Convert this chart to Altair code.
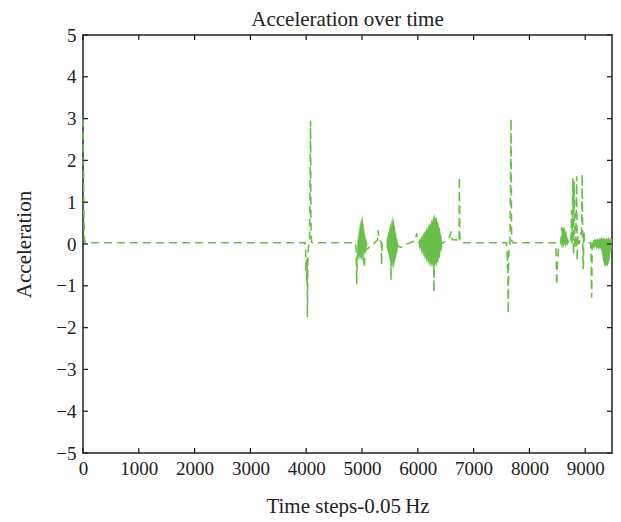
import altair as alt
import pandas as pd

GREEN = "#6abf4b"
FONT = "Liberation Serif"
INK = "#222222"

X_MAX = 9480
W, H = 529, 418

x_ticks = [0, 1000, 2000, 3000, 4000, 5000, 6000, 7000, 8000, 9000]
y_ticks = [-5, -4, -3, -2, -1, 0, 1, 2, 3, 4, 5]

# main trace (dashed)
t_line = [0, 8, 15, 25, 40, 3980, 3990, 3998, 4004, 4010, 4016, 4022, 4030, 4045,
          4060, 4070, 4078, 4085, 4095, 4110, 4880, 4895, 4905, 4915, 4935, 4990,
          5040, 5060, 5110, 5200, 5280, 5290, 5300, 5345, 5350, 5360, 5440, 5515,
          5520, 5530, 5640, 5700, 5800, 5900, 5960, 5980, 6000, 6040, 6280, 6290,
          6300, 6380, 6450, 6550, 6600, 6620, 6700, 6740, 6745, 6755, 6770, 7590,
          7600, 7608, 7612, 7616, 7620, 7630, 7650, 7660, 7670, 7680, 7700, 8470,
          8480, 8490, 8500, 8520, 8560, 8580, 8700, 8720, 8745, 8755, 8765, 8780,
          8790, 8800, 8815, 8830, 8847, 8855, 8870, 8890, 8935, 8945, 8955, 8965,
          8975, 8990, 9100, 9115, 9125, 9150, 9480]
a_line = [3.0, 2.0, 0.8, 0.1, 0.03, 0.03, -0.15, -0.7, -0.35, -0.9, -0.5, -1.75, -0.3, 0.0,
          0.1, 1.6, 2.95, 0.5, 0.05, 0.03, 0.03, -0.1, -0.95, -0.3, -0.2, 0.0,
          -0.55, -0.15, -0.1, 0.0, 0.1, 0.33, 0.1, 0.05, -0.5, 0.0, 0.0, 0.0,
          -0.86, 0.0, -0.05, -0.08, 0.0, 0.05, 0.1, 0.26, 0.05, 0.02, 0.0, -1.15,
          0.0, -0.05, 0.03, 0.1, 0.3, 0.1, 0.1, 0.05, 1.6, 0.05, 0.03, 0.03,
          -0.2, -0.6, -0.3, -1.0, -1.66, -0.2, 0.0, 1.0, 3.0, 0.1, 0.03, 0.03,
          -0.3, -0.98, -0.5, -0.1, 0.0, 0.4, 0.05, 0.0, 0.1, 0.81, 0.0, 1.57,
          -0.26, 1.5, -0.1, 0.0, 1.62, -0.4, 0.2, 0.0, 0.3, 1.67, 0.1, -0.6,
          0.3, 0.05, 0.02, -1.28, 0.0, 0.05, 0.0]

# dense oscillation bursts (envelopes)
b1_t = [4915, 4925, 4932, 4940, 4948, 4955, 4962, 4970, 4978, 4985, 4992, 5000, 5007, 5014, 5020,
        5028, 5035, 5042, 5050, 5058, 5065, 5075, 5085, 5095]
b1_lo = [-0.35, -0.5, -0.3, -0.45, -0.25, -0.42, -0.3, -0.4, -0.28, -0.45, -0.3, -0.38, -0.22, -0.35,
         -0.25, -0.32, -0.18, -0.3, -0.2, -0.28, -0.1, -0.18, -0.08, -0.05]
b1_hi = [-0.05, 0.2, 0.1, 0.35, 0.25, 0.5, 0.38, 0.6, 0.45, 0.66, 0.5, 0.7, 0.55, 0.74, 0.48,
         0.52, 0.3, 0.38, 0.2, 0.25, 0.1, 0.14, 0.04, 0.02]

b2_t = [5440, 5450, 5460, 5470, 5480, 5490, 5500, 5510, 5520, 5530, 5540, 5550, 5560, 5570,
        5580, 5590, 5600, 5610, 5620, 5630, 5640, 5650]
b2_lo = [-0.05, -0.2, -0.1, -0.3, -0.2, -0.4, -0.3, -0.5, -0.35, -0.55, -0.45, -0.6, -0.5, -0.62,
         -0.4, -0.5, -0.3, -0.38, -0.2, -0.25, -0.1, -0.05]
b2_hi = [0.08, 0.2, 0.15, 0.3, 0.25, 0.42, 0.35, 0.5, 0.42, 0.6, 0.5, 0.69, 0.55, 0.62, 0.42,
         0.45, 0.25, 0.3, 0.12, 0.15, 0.04, 0.0]

b3_t = [6020, 6035, 6050, 6065, 6080, 6095, 6110, 6125, 6140, 6155, 6170, 6185, 6200, 6215,
        6230, 6245, 6260, 6275, 6290, 6305, 6320, 6335, 6350, 6365, 6380, 6395, 6410, 6425, 6435]
b3_lo = [-0.05, -0.15, -0.08, -0.25, -0.15, -0.32, -0.22, -0.38, -0.3, -0.45, -0.35, -0.5, -0.4, -0.55,
         -0.45, -0.55, -0.48, -0.62, -0.5, -0.6, -0.45, -0.55, -0.4, -0.48, -0.3, -0.35, -0.15, -0.2, -0.05]
b3_hi = [0.08, 0.15, 0.1, 0.2, 0.15, 0.28, 0.22, 0.32, 0.28, 0.4, 0.34, 0.46, 0.4, 0.52,
         0.46, 0.6, 0.52, 0.68, 0.6, 0.74, 0.6, 0.66, 0.5, 0.55, 0.38, 0.4, 0.22, 0.2, 0.05]

b4_t = [8570, 8580, 8590, 8600, 8615, 8630, 8645, 8660, 8675, 8690]
b4_lo = [-0.1, -0.05, -0.12, 0.0, -0.1, 0.02, -0.1, 0.0, -0.05, 0.0]
b4_hi = [0.1, 0.35, 0.3, 0.42, 0.35, 0.4, 0.3, 0.32, 0.2, 0.05]

b5_t = [9140, 9160, 9180, 9200, 9220, 9240, 9260, 9280, 9300, 9320, 9340, 9360, 9380, 9400,
        9420, 9440, 9460, 9480]
b5_lo = [-0.08, -0.12, -0.05, -0.12, -0.08, -0.14, -0.1, -0.12, -0.2, -0.4, -0.5, -0.54, -0.5, -0.54,
         -0.45, -0.35, -0.15, -0.1]
b5_hi = [0.08, 0.1, 0.12, 0.1, 0.14, 0.1, 0.15, 0.12, 0.17, 0.12, 0.15, 0.1, 0.15, 0.12,
         0.17, 0.1, 0.15, 0.1]

line_df = pd.DataFrame({"t": t_line, "a": a_line, "i": list(range(len(t_line)))})

rows = []
for name, ts, los, his in [("b1", b1_t, b1_lo, b1_hi), ("b2", b2_t, b2_lo, b2_hi),
                           ("b3", b3_t, b3_lo, b3_hi), ("b4", b4_t, b4_lo, b4_hi),
                           ("b5", b5_t, b5_lo, b5_hi)]:
    for t, lo, hi in zip(ts, los, his):
        rows.append({"blob": name, "t": t, "a": lo, "hi": hi})
blob_df = pd.DataFrame(rows)

xt_df = pd.DataFrame({"t": x_ticks})
yt_df = pd.DataFrame({"a": y_ticks})

xs = alt.Scale(domain=[0, X_MAX], nice=False, zero=False)
ys = alt.Scale(domain=[-5, 5], nice=False)

axis_common = dict(labelFont=FONT, labelFontSize=19, labelColor=INK, titleFont=FONT,
                   titleFontSize=21, titleFontWeight="normal", titleColor=INK,
                   ticks=False, domain=False, grid=False, labelFlush=False)
x_axis = alt.Axis(values=x_ticks, format="d", labelPadding=6,
                  title="Time steps-0.05\u2009Hz", titleBaseline="alphabetic", titleY=59,
                  **axis_common)
y_axis = alt.Axis(values=y_ticks, format="d", labelPadding=7,
                  title="Acceleration", titleBaseline="alphabetic", titleX=-53,
                  **axis_common)

X = alt.X("t:Q", scale=xs, axis=x_axis)
Y = alt.Y("a:Q", scale=ys, axis=y_axis)

line = alt.Chart(line_df).mark_line(color=GREEN, strokeDash=[8, 5], strokeWidth=1.6).encode(
    x=X, y=Y, order="i:Q",
)

area = alt.Chart(blob_df).mark_area(color=GREEN, opacity=1).encode(
    x=X, y=Y, y2="hi:Q", detail="blob:N",
)

tick_style = dict(color=INK, strokeWidth=1.3)
top_ticks = alt.Chart(xt_df).mark_rule(**tick_style).encode(
    x=X, y=alt.value(0), y2=alt.value(5))
bot_ticks = alt.Chart(xt_df).mark_rule(**tick_style).encode(
    x=X, y=alt.value(H), y2=alt.value(H - 5))
left_ticks = alt.Chart(yt_df).mark_rule(**tick_style).encode(
    y=Y, x=alt.value(0), x2=alt.value(5))
right_ticks = alt.Chart(yt_df).mark_rule(**tick_style).encode(
    y=Y, x=alt.value(W), x2=alt.value(W - 5))

chart = alt.layer(line, area, top_ticks, bot_ticks, left_ticks, right_ticks).properties(
    width=W, height=H,
    title=alt.TitleParams("Acceleration over time", font=FONT, fontSize=21,
                          fontWeight="normal", color=INK, offset=-4),
    autosize=alt.AutoSizeParams(type="none"),
    padding={"left": 75, "top": 27, "right": 1, "bottom": 64},
    background="white",
).configure_view(stroke=INK, strokeWidth=1.5)

chart.save("out.html", embed_options={"renderer": "svg", "actions": False})
